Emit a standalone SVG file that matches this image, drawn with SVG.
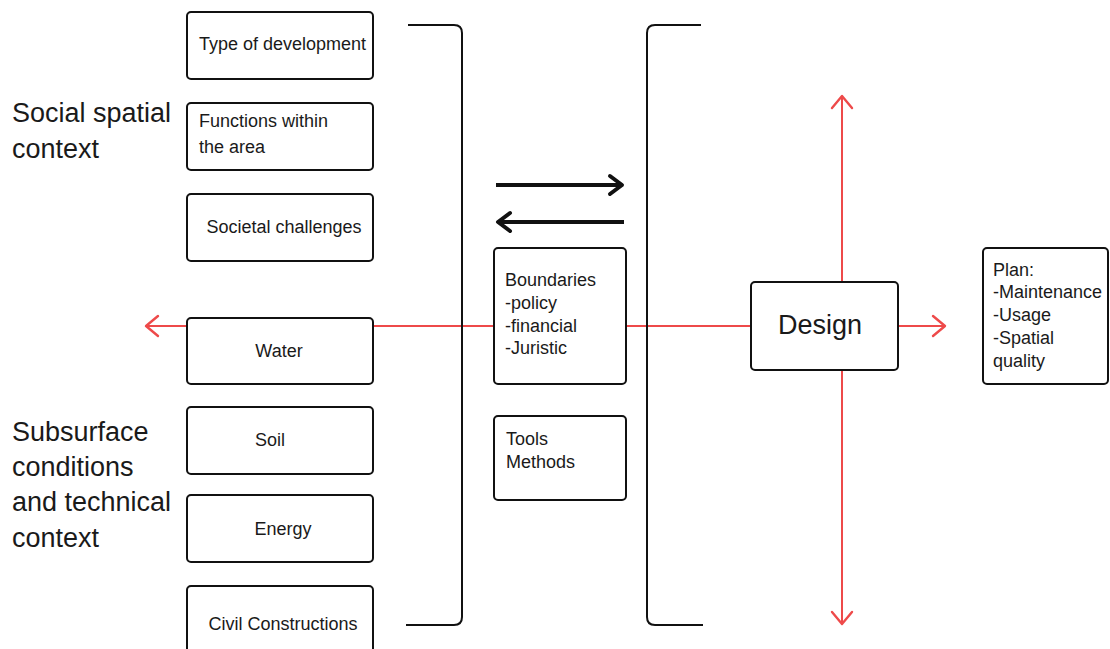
<svg xmlns="http://www.w3.org/2000/svg" width="1110" height="649" viewBox="0 0 1110 649">
  <style>
    .box { fill: #ffffff; stroke: #111111; stroke-width: 2; }
    .txt { font-family: "Liberation Sans", Arial, sans-serif; font-size: 18px; fill: #1a1a1a; }
    .big { font-family: "Liberation Sans", Arial, sans-serif; font-size: 27px; fill: #1a1a1a; }
    .red { stroke: #ee4a4a; stroke-width: 2; fill: none; }
    .blk { stroke: #111111; stroke-width: 4; fill: none; }
    .brace { stroke: #111111; stroke-width: 2; fill: none; }
  </style>
  <defs>
    <marker id="redHead" markerUnits="userSpaceOnUse" viewBox="-16 -14 20 28" markerWidth="20" markerHeight="28" refX="0" refY="0" orient="auto">
      <path d="M-12,-10 L0,0 L-12,10" fill="none" stroke="#ee4a4a" stroke-width="2.4" stroke-linejoin="round" stroke-linecap="round"/>
    </marker>
    <marker id="blackHead" markerUnits="userSpaceOnUse" viewBox="-18 -14 22 28" markerWidth="22" markerHeight="28" refX="0" refY="0" orient="auto">
      <path d="M-12,-9 L0,0 L-12,9" fill="none" stroke="#111111" stroke-width="4" stroke-linejoin="round" stroke-linecap="round"/>
    </marker>
  </defs>

  <rect width="1110" height="649" fill="#ffffff"/>

  <!-- connectors -->
  <g id="connectors">
    <line class="red" x1="187" y1="326" x2="146" y2="326" marker-end="url(#redHead)"/>
    <line class="red" x1="373" y1="326" x2="494" y2="326"/>
    <line class="red" x1="626" y1="326" x2="751" y2="326"/>
    <line class="red" x1="898" y1="326" x2="945" y2="326" marker-end="url(#redHead)"/>
    <line class="red" x1="842" y1="282" x2="842" y2="96" marker-end="url(#redHead)"/>
    <line class="red" x1="842" y1="370" x2="842" y2="624" marker-end="url(#redHead)"/>
    <line class="blk" x1="496" y1="185" x2="622" y2="185" marker-end="url(#blackHead)"/>
    <line class="blk" x1="624" y1="222" x2="498" y2="222" marker-end="url(#blackHead)"/>
    <!-- brackets -->
    <path class="brace" d="M408,25 H454 Q462,25 462,33 V617 Q462,625 454,625 H406"/>
    <path class="brace" d="M701,25 H655 Q647,25 647,33 V617 Q647,625 655,625 H703"/>
  </g>

  <!-- left-hand labels -->
  <g id="label-social">
    <text class="big" x="12" y="122">Social spatial</text>
    <text class="big" x="12" y="158">context</text>
  </g>
  <g id="label-subsurface">
    <text class="big" x="12" y="441">Subsurface</text>
    <text class="big" x="12" y="476">conditions</text>
    <text class="big" x="12" y="511">and technical</text>
    <text class="big" x="12" y="547">context</text>
  </g>

  <!-- social spatial context nodes -->
  <g id="node-type">
    <rect class="box" x="187" y="12" width="186" height="67" rx="4"/>
    <text class="txt" x="199" y="50">Type of development</text>
  </g>
  <g id="node-functions">
    <rect class="box" x="187" y="103" width="186" height="67" rx="4"/>
    <text class="txt" x="199" y="127">Functions within</text>
    <text class="txt" x="199" y="153">the area</text>
  </g>
  <g id="node-societal">
    <rect class="box" x="187" y="194" width="186" height="67" rx="4"/>
    <text class="txt" x="284" y="233" text-anchor="middle">Societal challenges</text>
  </g>

  <!-- subsurface nodes -->
  <g id="node-water">
    <rect class="box" x="187" y="318" width="186" height="66" rx="4"/>
    <text class="txt" x="279" y="357" text-anchor="middle">Water</text>
  </g>
  <g id="node-soil">
    <rect class="box" x="187" y="407" width="186" height="67" rx="4"/>
    <text class="txt" x="270" y="446" text-anchor="middle">Soil</text>
  </g>
  <g id="node-energy">
    <rect class="box" x="187" y="495" width="186" height="67" rx="4"/>
    <text class="txt" x="283" y="535" text-anchor="middle">Energy</text>
  </g>
  <g id="node-civil">
    <rect class="box" x="187" y="586" width="186" height="80" rx="4"/>
    <text class="txt" x="283" y="630" text-anchor="middle">Civil Constructions</text>
  </g>

  <!-- middle column -->
  <g id="node-boundaries">
    <rect class="box" x="494" y="248" width="132" height="136" rx="4"/>
    <text class="txt" x="505" y="286">Boundaries</text>
    <text class="txt" x="505" y="309">-policy</text>
    <text class="txt" x="505" y="332">-financial</text>
    <text class="txt" x="505" y="354">-Juristic</text>
  </g>
  <g id="node-tools">
    <rect class="box" x="494" y="416" width="132" height="84" rx="4"/>
    <text class="txt" x="506" y="445">Tools</text>
    <text class="txt" x="506" y="468">Methods</text>
  </g>

  <!-- design -->
  <g id="node-design">
    <rect class="box" x="751" y="282" width="147" height="88" rx="4"/>
    <text class="big" x="820" y="334" text-anchor="middle">Design</text>
  </g>

  <!-- plan -->
  <g id="node-plan">
    <rect class="box" x="983" y="248" width="125" height="136" rx="4"/>
    <text class="txt" x="993" y="276">Plan:</text>
    <text class="txt" x="993" y="298">-Maintenance</text>
    <text class="txt" x="993" y="321">-Usage</text>
    <text class="txt" x="993" y="344">-Spatial</text>
    <text class="txt" x="993" y="367">quality</text>
  </g>
</svg>
